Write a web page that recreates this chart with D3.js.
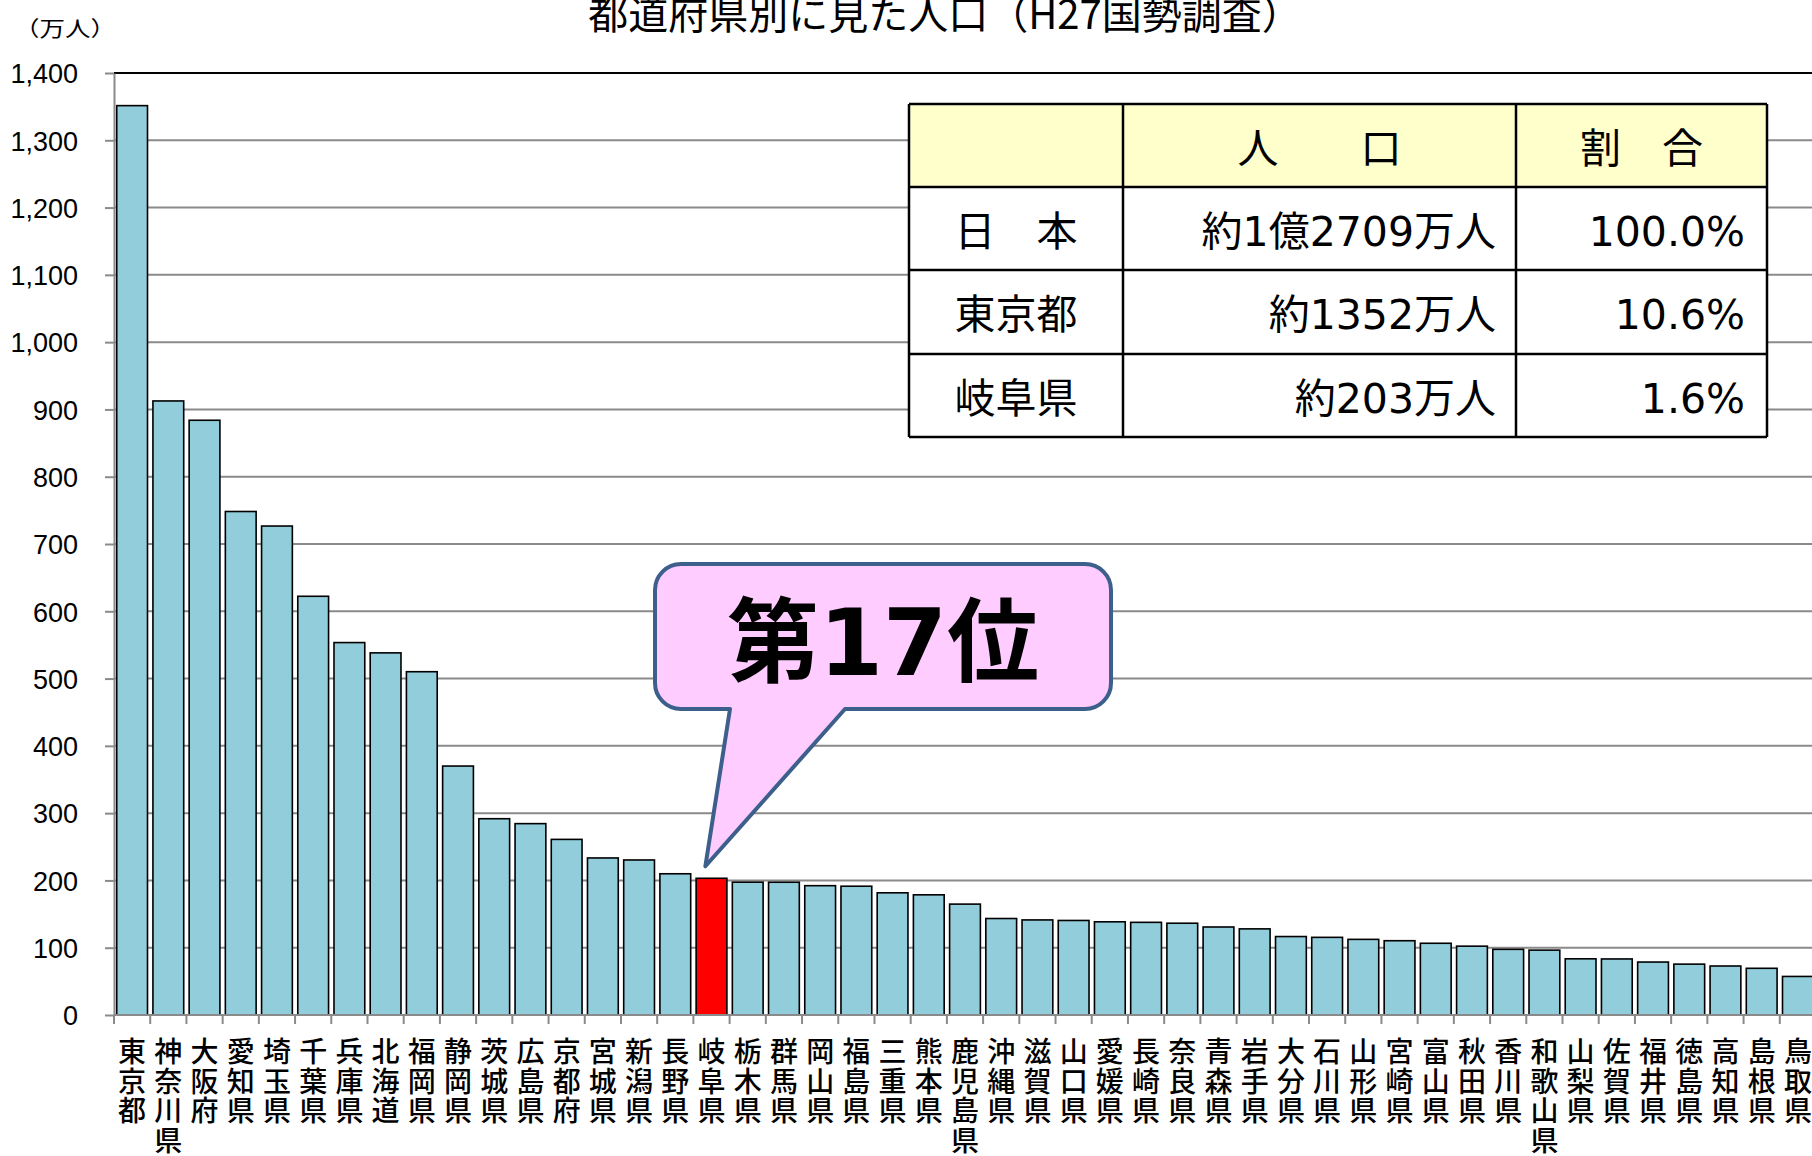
<!DOCTYPE html>
<html><head><meta charset="utf-8">
<script src="https://cdn.jsdelivr.net/npm/d3@7"></script>
<style>
  html,body{margin:0;padding:0;background:#fff;overflow:hidden}
  svg{display:block}
</style>
</head><body>
<svg id="chart" width="1812" height="1156"></svg>
<script>
// ---- data ----
const prefectures = ["東京都","神奈川県","大阪府","愛知県","埼玉県","千葉県","兵庫県","北海道","福岡県","静岡県",
  "茨城県","広島県","京都府","宮城県","新潟県","長野県","岐阜県","栃木県","群馬県","岡山県",
  "福島県","三重県","熊本県","鹿児島県","沖縄県","滋賀県","山口県","愛媛県","長崎県","奈良県",
  "青森県","岩手県","大分県","石川県","山形県","宮崎県","富山県","秋田県","香川県","和歌山県",
  "山梨県","佐賀県","福井県","徳島県","高知県","島根県","鳥取県"];
const population = [1351.5, 912.6, 883.9, 748.3, 726.7, 622.3, 553.5, 538.2, 510.2, 370.0,
  291.7, 284.4, 261.0, 233.4, 230.4, 209.9, 203.2, 197.4, 197.3, 192.2,
  191.4, 181.6, 178.6, 164.8, 143.4, 141.3, 140.5, 138.5, 137.7, 136.4,
  130.8, 128.0, 116.6, 115.4, 112.4, 110.4, 106.6, 102.3, 97.6, 96.4,
  83.5, 83.3, 78.7, 75.6, 72.8, 69.4, 57.3];
const highlightPref = "岐阜県";
const yTicks = [0,100,200,300,400,500,600,700,800,900,1000,1100,1200,1300,1400];
const titleText = "都道府県別に見た人口（H27国勢調査）";
const unitText = "（万人）";
const tableHeader = ["", "人　　口", "割　合"];
const tableRegions = ["日　本", "東京都", "岐阜県"];
const tablePopulation = ["約1億2709万人", "約1352万人", "約203万人"];
const tableShare = ["100.0%", "10.6%", "1.6%"];
const calloutText = "第17位";

// ---- layout ----
const W = 1812, H = 1156;
const plot = {left: 114, right: 1816, top: 73, bottom: 1015};
const svg = d3.select("#chart");
const CJK = "'Noto Sans CJK JP','Noto Sans CJK SC',sans-serif";

const data = prefectures.map((p, i) => ({name: p, value: population[i]}));

const xCat = d3.scaleBand().domain(prefectures).range([plot.left, plot.right]).padding(0);
const xBar = d3.scaleBand().domain(prefectures).range([plot.left, plot.right])
  .paddingInner(0.15).paddingOuter(0.075);
const y = d3.scaleLinear().domain([0, 1400]).range([plot.bottom, plot.top]);

// gridlines
svg.append("g").selectAll("line").data(yTicks.filter(d => d > 0)).join("line")
  .attr("x1", plot.left).attr("x2", plot.right)
  .attr("y1", d => y(d)).attr("y2", d => y(d))
  .attr("stroke", d => d === 1400 ? "#000" : "#8a8a8a")
  .attr("stroke-width", 2);

// bars
svg.append("g").selectAll("rect").data(data).join("rect")
  .attr("x", d => xBar(d.name))
  .attr("width", xBar.bandwidth())
  .attr("y", d => y(d.value))
  .attr("height", d => y(0) - y(d.value))
  .attr("fill", d => d.name === highlightPref ? "#ff0000" : "#92cddc")
  .attr("stroke", "#000").attr("stroke-width", 1.6);

// y axis
const yAxis = svg.append("g").attr("transform", `translate(${plot.left},0)`)
  .call(d3.axisLeft(y).tickValues(yTicks).tickSize(9).tickSizeOuter(0).tickPadding(27)
    .tickFormat(d3.format(",")));
yAxis.select(".domain").attr("stroke", "#8a8a8a").attr("stroke-width", 2);
yAxis.selectAll(".tick line").attr("stroke", "#8a8a8a").attr("stroke-width", 2);
yAxis.selectAll(".tick text").attr("font-family", "'Liberation Sans',Arial,sans-serif")
  .attr("font-size", 27).attr("fill", "#000").attr("dy", "0.36em");

// x axis line and boundary ticks
svg.append("line").attr("x1", plot.left).attr("x2", plot.right)
  .attr("y1", y(0)).attr("y2", y(0)).attr("stroke", "#8a8a8a").attr("stroke-width", 2);
const boundaries = prefectures.map(p => xCat(p)).concat([xCat(prefectures[prefectures.length-1]) + xCat.step()]);
svg.append("g").selectAll("line").data(boundaries).join("line")
  .attr("x1", d => d).attr("x2", d => d)
  .attr("y1", y(0)).attr("y2", y(0) + 9)
  .attr("stroke", "#8a8a8a").attr("stroke-width", 2);

// x labels (vertical stacked characters)
const lab = svg.append("g").selectAll("text").data(prefectures).join("text")
  .attr("font-family", CJK).attr("font-size", 28).attr("font-weight", 500).attr("fill", "#000")
  .attr("text-anchor", "middle");
lab.each(function(p) {
  const t = d3.select(this);
  const cx = xCat(p) + xCat.bandwidth() / 2;
  Array.from(p).forEach((ch, i) => {
    t.append("tspan").attr("x", cx).attr("y", y(0) + 47 + i * 29.7).text(ch);
  });
});

// title
svg.append("text").attr("x", 945).attr("y", 29)
  .attr("text-anchor", "middle").attr("font-family", CJK).attr("font-size", 40).attr("font-weight", 400)
  .attr("fill", "#000").text(titleText);

// unit
svg.append("text").attr("x", 14).attr("y", 36)
  .attr("font-family", CJK).attr("font-size", 21).attr("font-weight", 400).attr("fill", "#000")
  .attr("textLength", 102).attr("lengthAdjust", "spacingAndGlyphs").text(unitText);

// ---- table ----
const colX = [909, 1123, 1516, 1767];
const rowY = [104, 187, 270, 354, 437];
const tbl = svg.append("g");
tbl.append("rect").attr("x", colX[0]).attr("y", rowY[0]).attr("width", colX[3]-colX[0]).attr("height", rowY[1]-rowY[0]).attr("fill", "#ffffcc");
tbl.append("rect").attr("x", colX[0]).attr("y", rowY[1]).attr("width", colX[3]-colX[0]).attr("height", rowY[4]-rowY[1]).attr("fill", "#fff");
rowY.forEach(yy => tbl.append("line").attr("x1", colX[0]).attr("x2", colX[3]).attr("y1", yy).attr("y2", yy).attr("stroke", "#000").attr("stroke-width", 2.5));
colX.forEach(xx => tbl.append("line").attr("x1", xx).attr("x2", xx).attr("y1", rowY[0]).attr("y2", rowY[4]).attr("stroke", "#000").attr("stroke-width", 2.5));
const TF = "'DejaVu Sans','Noto Sans CJK JP',sans-serif";
const fs = 41;
function cellText(txt, x, rowIdx, anchor) {
  tbl.append("text").attr("x", x).attr("y", (rowY[rowIdx] + rowY[rowIdx+1]) / 2 + 17)
    .attr("text-anchor", anchor).attr("font-family", TF).attr("font-size", fs)
    .attr("fill", "#000").attr("xml:space", "preserve").text(txt);
}
cellText(tableHeader[1], (colX[1]+colX[2])/2, 0, "middle");
cellText(tableHeader[2], (colX[2]+colX[3])/2, 0, "middle");
tableRegions.forEach((r, i) => {
  cellText(r, (colX[0]+colX[1])/2, i+1, "middle");
  cellText(tablePopulation[i], colX[2] - 20, i+1, "end");
  cellText(tableShare[i], colX[3] - 22, i+1, "end");
});

// ---- callout ----
const box = {l: 655, r: 1111, t: 564, b: 709, rad: 26};
const hiIdx = prefectures.indexOf(highlightPref);
const tipX = xBar(highlightPref) + xBar.bandwidth() * 0.3;
const tipY = y(population[hiIdx]) - 12;
const baseL = 730, baseR = 845;
const p = d3.path();
p.moveTo(box.l + box.rad, box.t);
p.lineTo(box.r - box.rad, box.t);
p.arcTo(box.r, box.t, box.r, box.t + box.rad, box.rad);
p.lineTo(box.r, box.b - box.rad);
p.arcTo(box.r, box.b, box.r - box.rad, box.b, box.rad);
p.lineTo(baseR, box.b);
p.lineTo(tipX, tipY);
p.lineTo(baseL, box.b);
p.lineTo(box.l + box.rad, box.b);
p.arcTo(box.l, box.b, box.l, box.b - box.rad, box.rad);
p.lineTo(box.l, box.t + box.rad);
p.arcTo(box.l, box.t, box.l + box.rad, box.t, box.rad);
p.closePath();
svg.append("path").attr("d", p.toString()).attr("fill", "#ffccff")
  .attr("stroke", "#3d5f8c").attr("stroke-width", 4).attr("stroke-linejoin", "round");
svg.append("text").attr("x", (box.l + box.r) / 2).attr("y", 675)
  .attr("text-anchor", "middle").attr("font-family", TF).attr("font-weight", "bold")
  .attr("font-size", 92).attr("fill", "#000").text(calloutText);
</script>
</body></html>
